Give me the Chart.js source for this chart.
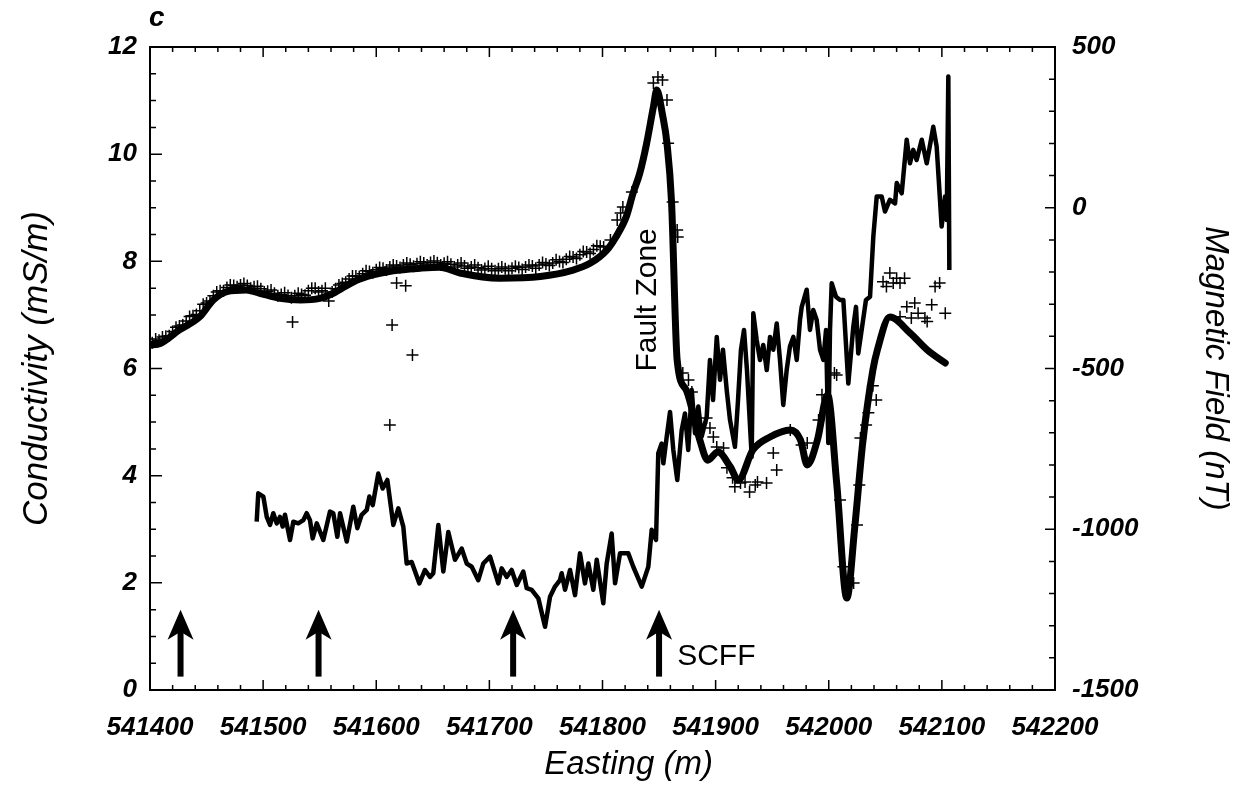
<!DOCTYPE html>
<html>
<head>
<meta charset="utf-8">
<script src="https://cdn.jsdelivr.net/npm/chart.js@4.4.1/dist/chart.umd.min.js"></script>
<style>
  html, body { margin: 0; padding: 0; background: #fff; }
</style>
</head>
<body>
<canvas id="chart" width="1248" height="805"></canvas>
<script>
// Magnetic field, modelled curve (nT, right axis)
var modelEasting = [541400, 541409, 541426, 541444, 541456, 541468, 541485, 541497, 541515, 541533,
  541550, 541562, 541580, 541597, 541615, 541639, 541656, 541674, 541709, 541745,
  541774, 541789, 541804, 541812, 541821, 541827, 541833, 541839, 541845, 541848,
  541853, 541857, 541861, 541866, 541874, 541886, 541893, 541902, 541913, 541920,
  541933, 541948, 541966, 541975, 541981, 541990, 541999, 542007, 542016, 542023,
  542030, 542039, 542043, 542054, 542072, 542087, 542103];
var modelField = [-427, -422, -380, -339, -287, -261, -256, -266, -282, -287,
  -282, -266, -230, -209, -196, -188, -185, -203, -219, -214,
  -194, -173, -131, -90, -28, 45, 108, 200, 314, 366,
  290, 200, 20, -474, -567, -722, -785, -760, -806, -847,
  -753, -713, -691, -722, -800, -722, -582, -856, -1214, -993,
  -732, -505, -442, -340, -390, -442, -483];

// Magnetic field, observed (nT, right axis, crosses)
var obsEasting = [541402, 541408, 541414, 541420, 541426, 541432, 541438, 541444, 541450, 541456,
  541462, 541468, 541474, 541480, 541486, 541492, 541498, 541504, 541510, 541516,
  541522, 541528, 541534, 541540, 541546, 541552, 541558, 541564, 541570, 541576,
  541582, 541588, 541594, 541600, 541606, 541612, 541618, 541624, 541630, 541636,
  541642, 541648, 541654, 541660, 541666, 541672, 541678, 541684, 541690, 541696,
  541702, 541708, 541714, 541720, 541726, 541732, 541738, 541744, 541750, 541756,
  541762, 541768, 541774, 541780, 541786, 541792, 541798,
  541405, 541411, 541417, 541423, 541429, 541435, 541441, 541447, 541453, 541459,
  541465, 541471, 541477, 541483, 541489, 541495, 541501, 541507, 541513, 541519,
  541525, 541531, 541537, 541543, 541549, 541555, 541561, 541567, 541573, 541579,
  541585, 541591, 541597, 541603, 541609, 541615, 541621, 541627, 541633, 541639,
  541645, 541651, 541657, 541663, 541669, 541675, 541681, 541687, 541693, 541699,
  541705, 541711, 541717, 541723, 541729, 541735, 541741, 541747, 541753, 541759,
  541765, 541771, 541777, 541783, 541789, 541795,
  541526, 541614, 541618, 541626, 541632, 541612,
  541801, 541807, 541813, 541816, 541818, 541826, 541845, 541849, 541853, 541857,
  541858, 541862, 541866, 541866.5,
  541871, 541876, 541879, 541892, 541895, 541898, 541901, 541907, 541910, 541915,
  541917, 541922, 541926, 541930, 541935, 541937, 541945, 541951, 541954, 541966,
  541976, 541981, 541991, 541994, 542005, 542007, 542010, 542013, 542022, 542025,
  542027, 542028, 542033, 542035, 542039, 542042, 542048, 542051, 542054, 542057,
  542060, 542063, 542067, 542063, 542069, 542073, 542076, 542079, 542085, 542087,
  542091, 542094, 542098, 542103];
var obsField = [-420, -412, -400, -385, -368, -352, -336, -320, -296, -274,
  -258, -248, -242, -240, -242, -246, -252, -260, -266, -270,
  -273, -274, -270, -258, -250, -258, -290, -252, -236, -222,
  -212, -205, -198, -193, -188, -184, -181, -178, -176, -174,
  -172, -170, -171, -173, -176, -178, -181, -184, -187, -189,
  -190, -190, -190, -188, -186, -184, -181, -178, -175, -172,
  -167, -160, -153, -146, -138, -130, -120,
  -408, -402, -398, -372, -365, -338, -332, -300, -290, -262,
  -258, -240, -246, -236, -250, -244, -262, -256, -274, -264,
  -280, -266, -272, -250, -262, -250, -262, -240, -232, -212,
  -214, -196, -202, -186, -194, -178, -186, -172, -182, -168,
  -178, -166, -178, -168, -184, -172, -188, -178, -194, -182,
  -196, -184, -196, -182, -192, -178, -188, -170, -180, -162,
  -170, -152, -158, -136, -142, -118,
  -355, -365, -234, -243, -458, -676,
  -122, -100, -38, -16, 2, 49, 388, 407, 397, 335,
  201, 18, -69, -91,
  -514, -536, -573, -654, -685, -713, -744, -747, -809, -840,
  -868, -856, -853, -884, -862, -853, -856, -763, -816, -691,
  -738, -732, -660, -582, -514, -520, -909, -1117, -1167, -987,
  -862, -716, -676, -638, -554, -598, -230, -245, -203, -234,
  -219, -234, -219, -339, -308, -343, -296, -328, -343, -354,
  -302, -245, -234, -328];

// Conductivity (mS/m, left axis)
var condEasting = [541494.3, 541495.7, 541500.2, 541503.2, 541506.1, 541509.0, 541512.0, 541514.9, 541517.3, 541519.3,
  541523.8, 541526.7, 541531.1, 541535.5, 541538.5, 541541.4, 541543.8, 541547.4, 541553.2, 541559.1,
  541562.0, 541565.6, 541568.0, 541573.9, 541579.7, 541583.3, 541587.1, 541591.6, 541593.9, 541596.9,
  541601.8, 541605.7, 541609.8, 541615.1, 541619.5, 541623.9, 541626.9, 541631.3, 541638.1, 541643.1,
  541647.5, 541650.4, 541654.9, 541659.3, 541663.7, 541669.6, 541675.5, 541680.0, 541684.4, 541690.2,
  541694.6, 541700.6, 541707.9, 541710.9, 541715.3, 541719.7, 541724.2, 541730.0, 541733.0, 541737.4,
  541743.3, 541749.2, 541753.6, 541758.0, 541762.4, 541763.9, 541766.9, 541771.3, 541775.7, 541780.1,
  541784.5, 541787.5, 541791.9, 541794.9, 541800.7, 541803.7, 541808.1, 541811.1, 541815.5, 541822.8,
  541827.2, 541834.7, 541840.5, 541843.5, 541847.3, 541849.3, 541852.3, 541853.8, 541856.8, 541859.7,
  541862.6, 541866.1, 541870.0, 541872.9, 541875.8, 541878.9, 541881.8, 541884.7, 541887.7, 541892.1,
  541895.0, 541897.7, 541901.0, 541903.9, 541906.5, 541909.8, 541912.7, 541917.1, 541919.8, 541922.4,
  541925.1, 541927.7, 541931.9, 541933.3, 541936.3, 541939.2, 541942.1, 541945.2, 541948.1, 541951.0,
  541954.0, 541956.9, 541959.8, 541962.8, 541965.7, 541968.7, 541971.7, 541974.6, 541976.1, 541980.5,
  541983.4, 541986.3, 541989.3, 541992.3, 541995.2, 541997.6, 541999.6, 542001.1, 542002.6, 542006.4,
  542010.0, 542012.9, 542017.3, 542021.7, 542024.1, 542026.1, 542029.1, 542032.9, 542036.5, 542039.4,
  542042.4, 542046.8, 542049.7, 542054.1, 542058.6, 542060.1, 542064.5, 542068.9, 542071.8, 542074.7,
  542077.7, 542082.2, 542086.6, 542092.4, 542095.4, 542099.8, 542102.8, 542104.3, 542105.7, 542106.6];
var conductivity = [3.14, 3.67, 3.61, 3.23, 3.08, 3.30, 3.11, 3.23, 3.05, 3.27,
  2.80, 3.14, 3.11, 3.17, 3.30, 3.17, 2.83, 3.11, 2.80, 3.33,
  3.30, 2.86, 3.30, 2.77, 3.42, 3.02, 3.27, 3.36, 3.61, 3.45,
  4.04, 3.76, 3.92, 3.08, 3.39, 3.05, 2.36, 2.39, 1.99, 2.24,
  2.11, 2.18, 3.08, 2.21, 2.95, 2.43, 2.64, 2.36, 2.30, 2.05,
  2.36, 2.49, 1.99, 2.27, 2.11, 2.24, 1.96, 2.21, 1.90, 1.87,
  1.71, 1.18, 1.74, 1.93, 2.05, 2.18, 1.87, 2.24, 1.77, 2.55,
  1.99, 2.36, 1.87, 2.43, 1.62, 2.36, 2.92, 1.99, 2.55, 2.55,
  2.30, 1.93, 2.30, 2.99, 2.80, 4.42, 4.60, 4.23, 4.73, 5.19,
  4.48, 3.92, 4.85, 5.16, 4.48, 5.60, 4.79, 5.29, 4.73, 5.10,
  6.16, 5.41, 6.59, 5.79, 6.35, 5.60, 5.04, 4.54, 5.41, 6.35,
  6.72, 5.97, 4.35, 7.03, 6.53, 6.16, 6.44, 5.97, 6.59, 6.35,
  6.84, 6.16, 5.32, 5.97, 6.41, 6.59, 6.16, 6.91, 7.15, 7.47,
  6.72, 7.09, 6.91, 6.35, 6.16, 6.72, 4.61, 6.72, 7.59, 7.34,
  7.28, 7.28, 5.72, 6.78, 7.15, 6.28, 6.72, 7.28, 7.34, 8.46,
  9.21, 9.21, 8.93, 9.15, 9.08, 9.46, 9.27, 10.27, 9.83, 10.08,
  9.89, 10.27, 9.83, 10.51, 10.14, 8.65, 9.21, 8.77, 11.45, 7.84];

// Marker arrows along the profile
var arrowEasting = [541427, 541549, 541721, 541850];
var arrowTip = 1.5;
var arrowBase = 0.25;

function pairs(xs, ys) {
  return xs.map(function (x, i) { return { x: x, y: ys[i] }; });
}

var family = '"Liberation Sans", Arial, sans-serif';
var tickFont = { family: family, size: 26, weight: 'bold', style: 'italic' };
var titleFont = { family: family, size: 35, style: 'italic' };

// frame, inward ticks, arrows and labels
var decor = {
  id: 'decor',
  afterDatasetsDraw: function (chart) {
    var ctx = chart.ctx, a = chart.chartArea;
    var x = chart.scales.x, y = chart.scales.y, y2 = chart.scales.y2;
    ctx.save();
    ctx.strokeStyle = '#000';
    ctx.fillStyle = '#000';
    ctx.lineWidth = 2;
    ctx.strokeRect(a.left, a.top, a.right - a.left, a.bottom - a.top);

    ctx.lineWidth = 1.5;
    ctx.beginPath();
    for (var v = 541400; v <= 542200; v += 20) {
      var px = x.getPixelForValue(v);
      var len = v % 100 === 0 ? 10 : 5;
      ctx.moveTo(px, a.bottom); ctx.lineTo(px, a.bottom - len);
      ctx.moveTo(px, a.top); ctx.lineTo(px, a.top + len);
    }
    for (var c = 0; c <= 12; c += 0.5) {
      var py = y.getPixelForValue(c);
      ctx.moveTo(a.left, py); ctx.lineTo(a.left + (c % 2 === 0 ? 12 : 6), py);
    }
    for (var m = -1500; m <= 500; m += 100) {
      var py2 = y2.getPixelForValue(m);
      ctx.moveTo(a.right, py2); ctx.lineTo(a.right - (m % 500 === 0 ? 10 : 6), py2);
    }
    ctx.stroke();

    arrowEasting.forEach(function (e) {
      var ax = x.getPixelForValue(e);
      var top = y.getPixelForValue(arrowTip);
      var base = y.getPixelForValue(arrowBase);
      ctx.fillRect(ax - 3, top + 20, 6, base - top - 20);
      ctx.beginPath();
      ctx.moveTo(ax, top);
      ctx.lineTo(ax - 13, top + 30);
      ctx.lineTo(ax, top + 22);
      ctx.lineTo(ax + 13, top + 30);
      ctx.closePath();
      ctx.fill();
    });

    ctx.font = '30px ' + family;
    ctx.textAlign = 'center';
    ctx.textBaseline = 'middle';
    ctx.save();
    ctx.translate(x.getPixelForValue(541840), y.getPixelForValue(7.28));
    ctx.rotate(-Math.PI / 2);
    ctx.fillText('Fault Zone', 0, 0);
    ctx.restore();

    ctx.textAlign = 'left';
    ctx.fillText('SCFF', x.getPixelForValue(541866), y.getPixelForValue(0.62));

    // x-axis title sits a little right of the axis centre in the original
    ctx.font = 'italic 33px ' + family;
    ctx.textAlign = 'center';
    ctx.fillText('Easting (m)', x.getPixelForValue(541823), 765);

    ctx.font = 'italic bold 28px ' + family;
    ctx.textAlign = 'left';
    ctx.textBaseline = 'alphabetic';
    ctx.fillText('c', a.left - 1, a.top - 21);
    ctx.restore();
  }
};

new Chart(document.getElementById('chart'), {
  type: 'scatter',
  data: {
    datasets: [
      {
        label: 'Magnetic field (observed)',
        data: pairs(obsEasting, obsField),
        yAxisID: 'y2',
        showLine: false,
        pointStyle: 'cross',
        pointRadius: 6,
        borderColor: '#000',
        borderWidth: 1.5
      },
      {
        label: 'Magnetic field (model)',
        data: pairs(modelEasting, modelField),
        yAxisID: 'y2',
        showLine: true,
        cubicInterpolationMode: 'monotone',
        pointRadius: 0,
        borderColor: '#000',
        borderWidth: 7,
        borderCapStyle: 'round',
        borderJoinStyle: 'round'
      },
      {
        label: 'Conductivity',
        data: pairs(condEasting, conductivity),
        yAxisID: 'y',
        showLine: true,
        pointRadius: 0,
        borderColor: '#000',
        borderWidth: 4.5,
        borderJoinStyle: 'round'
      }
    ]
  },
  options: {
    responsive: false,
    animation: false,
    layout: { padding: { top: 47, left: 0, right: 0, bottom: 0 } },
    plugins: { legend: { display: false }, tooltip: { enabled: false } },
    scales: {
      x: {
        type: 'linear',
        min: 541400,
        max: 542200,
        grid: { display: false, drawTicks: false },
        border: { display: false },
        ticks: { stepSize: 100, color: '#000', font: tickFont, padding: 22, maxRotation: 0,
          callback: function (v) { return String(v); } },
        afterFit: function (s) { s.height = 115; }
      },
      y: {
        position: 'left',
        min: 0,
        max: 12,
        grid: { display: false, drawTicks: false },
        border: { display: false },
        ticks: { stepSize: 2, color: '#000', font: tickFont, padding: 13,
          callback: function (v) { return String(v); } },
        title: { display: true, text: 'Conductivity (mS/m)', color: '#000', font: titleFont, padding: { top: 16, bottom: 0 } },
        afterFit: function (s) { s.width = 150; }
      },
      y2: {
        position: 'right',
        min: -1500,
        max: 500,
        grid: { display: false, drawTicks: false },
        border: { display: false },
        ticks: { stepSize: 500, color: '#000', font: tickFont, padding: 17,
          callback: function (v) { return String(v); } },
        title: { display: true, text: 'Magnetic Field (nT)', color: '#000', font: { family: family, size: 33, style: 'italic' }, padding: { top: 13, bottom: 0 } },
        afterFit: function (s) { s.width = 193; }
      }
    }
  },
  plugins: [decor]
});
</script>
</body>
</html>
